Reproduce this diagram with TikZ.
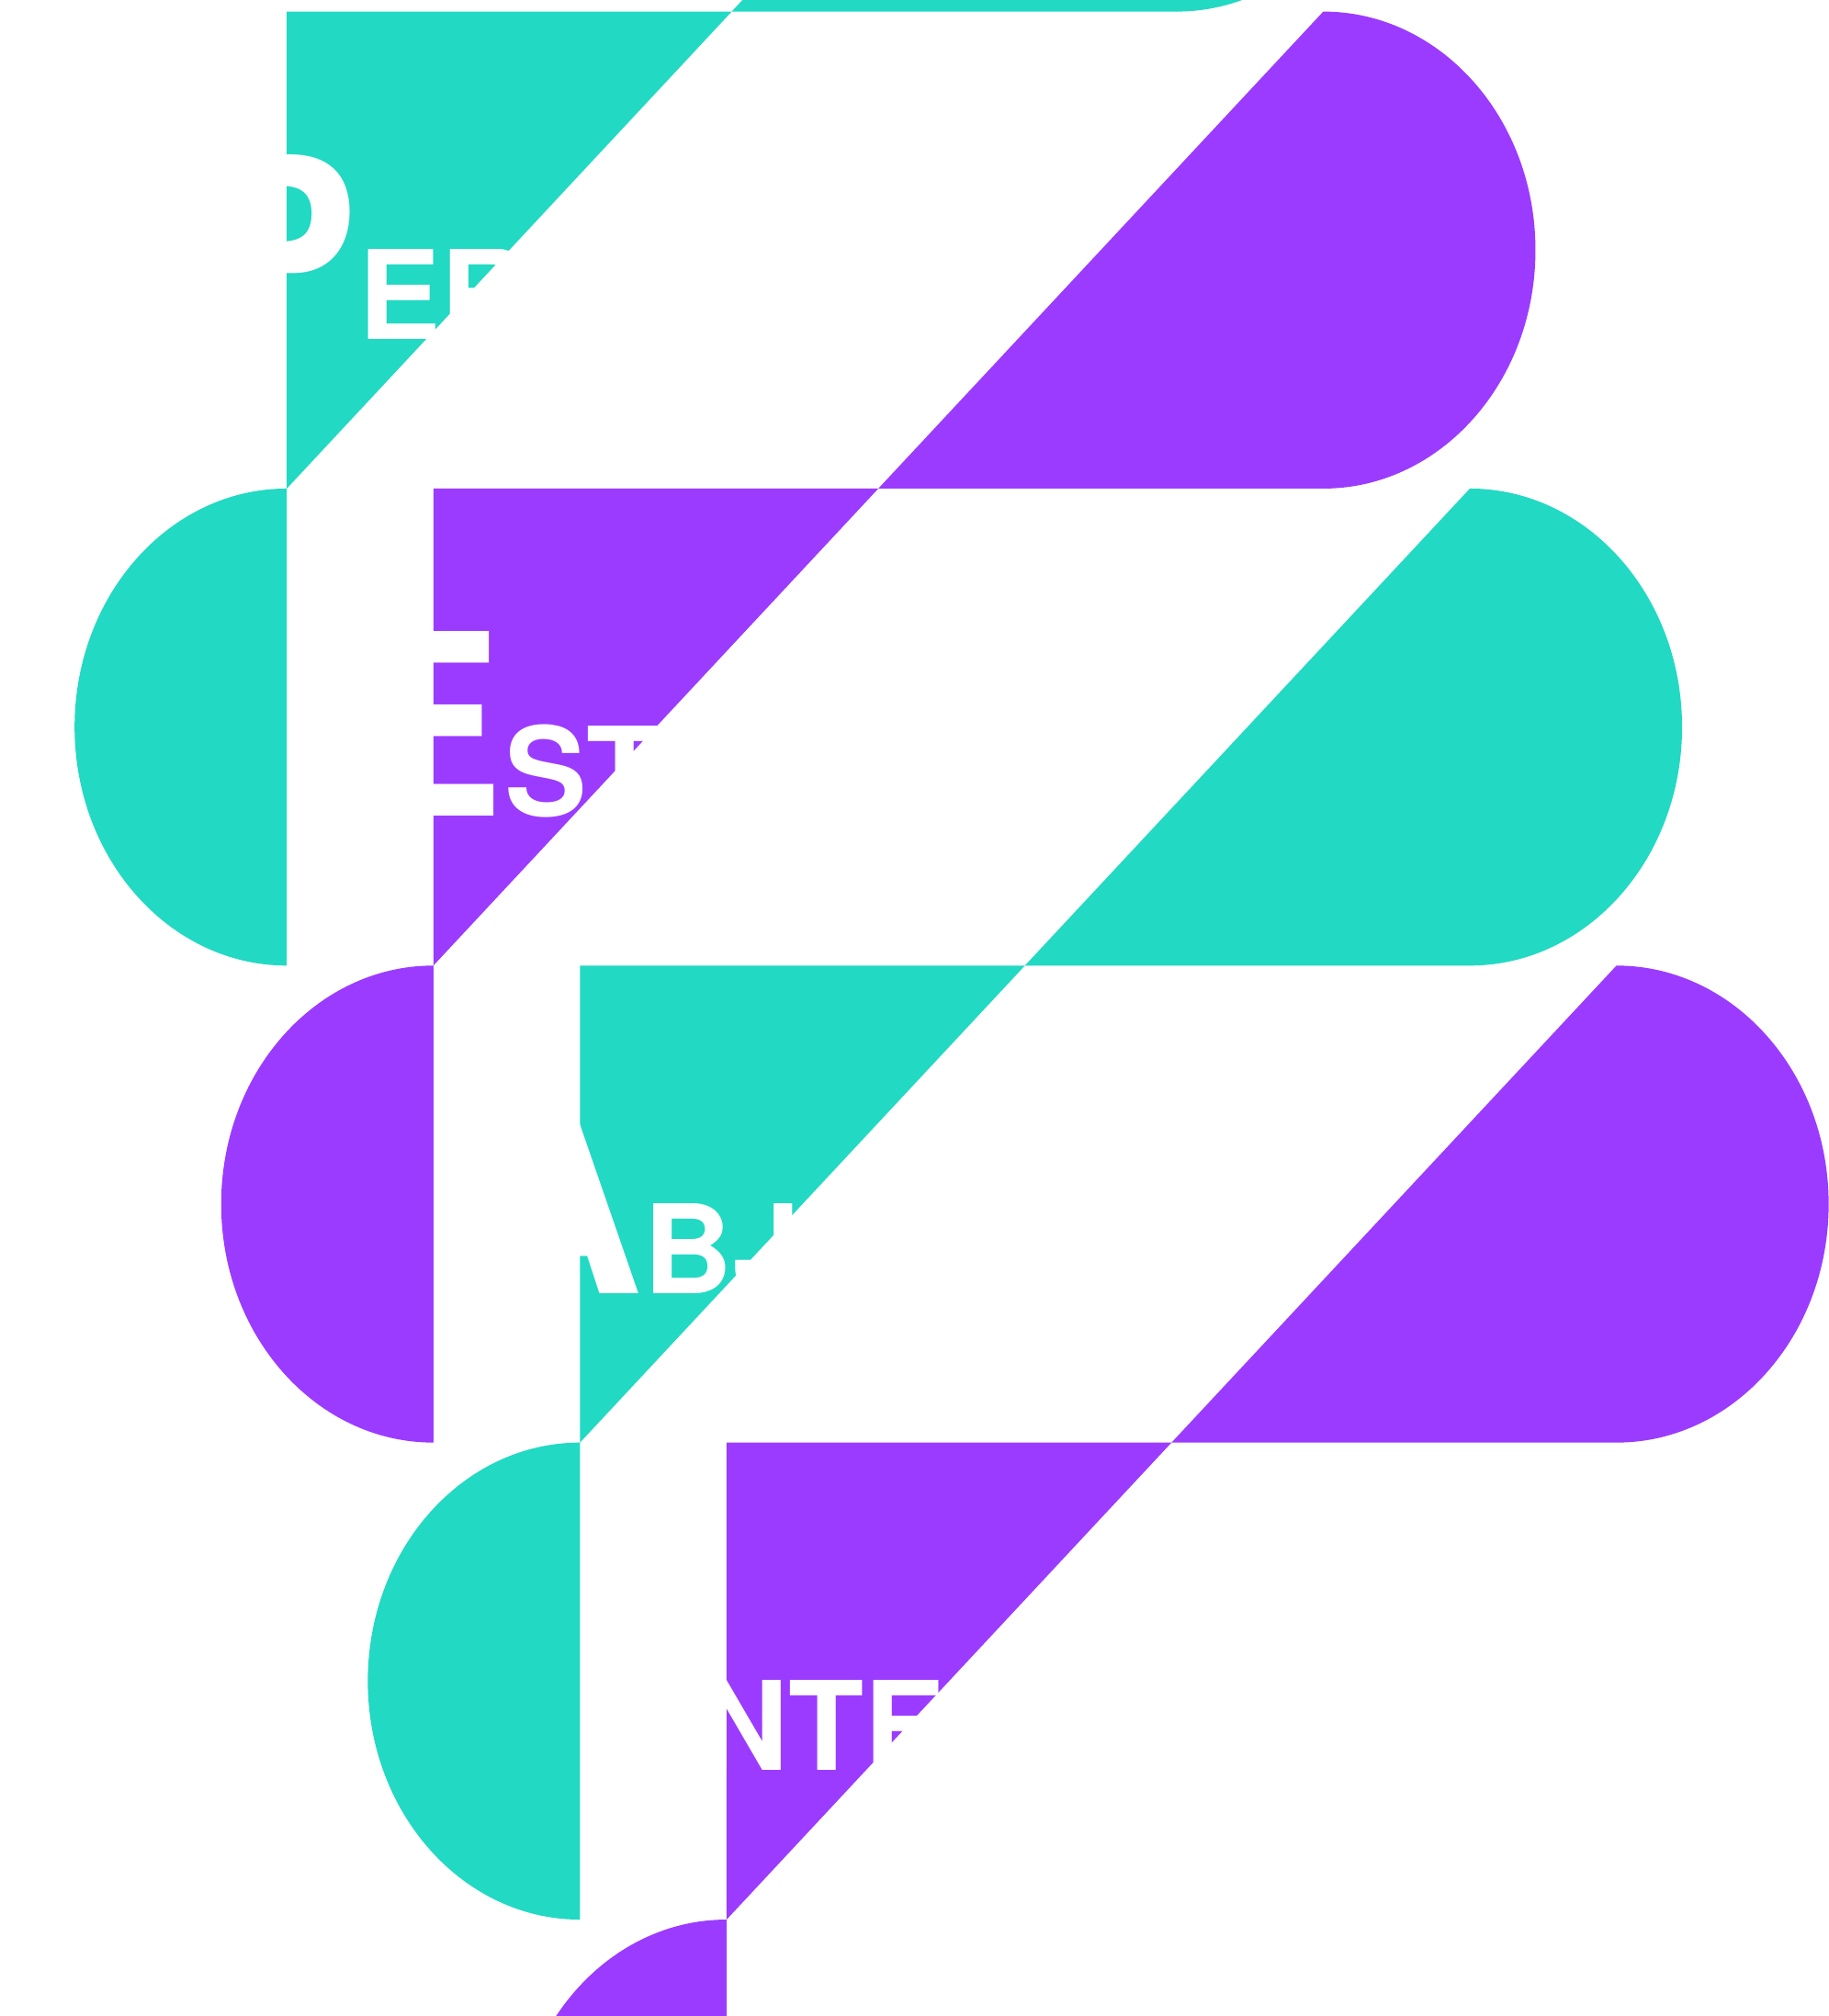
\documentclass[tikz,border=0pt]{standalone}
\usepackage{fontspec}
\setmainfont{TeX Gyre Heros}
\definecolor{tealpill}{HTML}{22D9C3}
\definecolor{purplepill}{HTML}{9B3BFF}
\tikzset{
  pilltext/.style={anchor=base west, inner sep=0pt, text=white, font=\bfseries},
}
\newcommand{\firstcap}[1]{{\fontsize{197}{197}\selectfont #1}}
\newcommand{\restcap}[1]{{\fontsize{96}{96}\selectfont #1}}

\begin{document}
\begin{tikzpicture}[x=1pt,y=-1pt]
\useasboundingbox (0,0) rectangle (1422,1568);

% Pills, each shifted right and down
\foreach \i/\col/\first/\rest/\dx in {0/tealpill/P/ERFORMANCE/89, 1/purplepill/E/STABILIDADE/89, 2/tealpill/A/BJUNÇÃO/72, 3/purplepill/I/NTERPRETAÇÃO/89}{
  \pgfmathsetmacro{\xl}{58+114*\i}
  \pgfmathsetmacro{\yt}{9+371*\i}
  \fill[\col] (\xl+165,\yt) -- (\xl+857,\yt)
    arc[start angle=90, end angle=-90, x radius=165, y radius=185.5]
    -- (\xl+165,\yt+371)
    arc[start angle=270, end angle=90, x radius=165, y radius=185.5] -- cycle;
  \node[pilltext] (word\i) at (\xl+\dx,\yt+255) {\firstcap{\first}\restcap{\rest}};
}

\end{tikzpicture}
\end{document}
